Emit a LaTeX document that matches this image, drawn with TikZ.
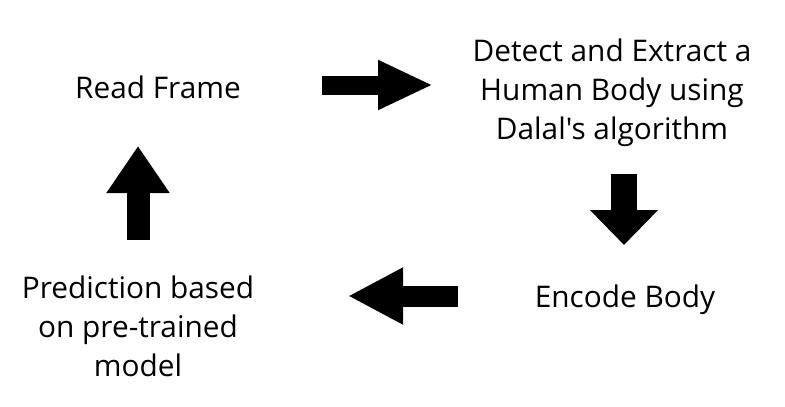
\documentclass[tikz,border=0pt]{standalone}
\usepackage{fontspec}
\setmainfont{Open Sans}[Ligatures=TeXOff]
\usetikzlibrary{arrows.meta}

\tikzset{
	steptext/.style={align=center, inner sep=0pt, font=\fontsize{29.8}{39}\selectfont},
	flow/.style n args={3}{line width=#1, -{Triangle[length=#2, width=#3]}},
}

\begin{document}
\begin{tikzpicture}[x=1pt, y=-1pt]
	\useasboundingbox (0,0) rectangle (785,407);
	% the four steps
	\node[steptext] (read) at (158,87) {Read Frame};
	\node[steptext] (detect) at (612,92.5) {Detect and Extract a\\Human Body using\\Dalal's algorithm};
	\node[steptext] (encode) at (625,300) {Encode Body};
	\node[steptext] (predict) at (138,326) {Prediction based\\on pre-trained\\model};
	% arrow ends
	\coordinate (r1) at (322,85);
	\coordinate (r2) at (433,85);
	\coordinate (d1) at (624,174);
	\coordinate (d2) at (624,245);
	\coordinate (l1) at (458,296);
	\coordinate (l2) at (348,296);
	\coordinate (u1) at (138,240);
	\coordinate (u2) at (138,146);
	% block arrows
	\draw[flow={19pt}{55pt}{46pt}] (r1) -- (r2);
	\draw[flow={26pt}{35pt}{66pt}] (d1) -- (d2);
	\draw[flow={21pt}{55pt}{53pt}] (l1) -- (l2);
	\draw[flow={23pt}{47pt}{60pt}] (u1) -- (u2);
\end{tikzpicture}
\end{document}
